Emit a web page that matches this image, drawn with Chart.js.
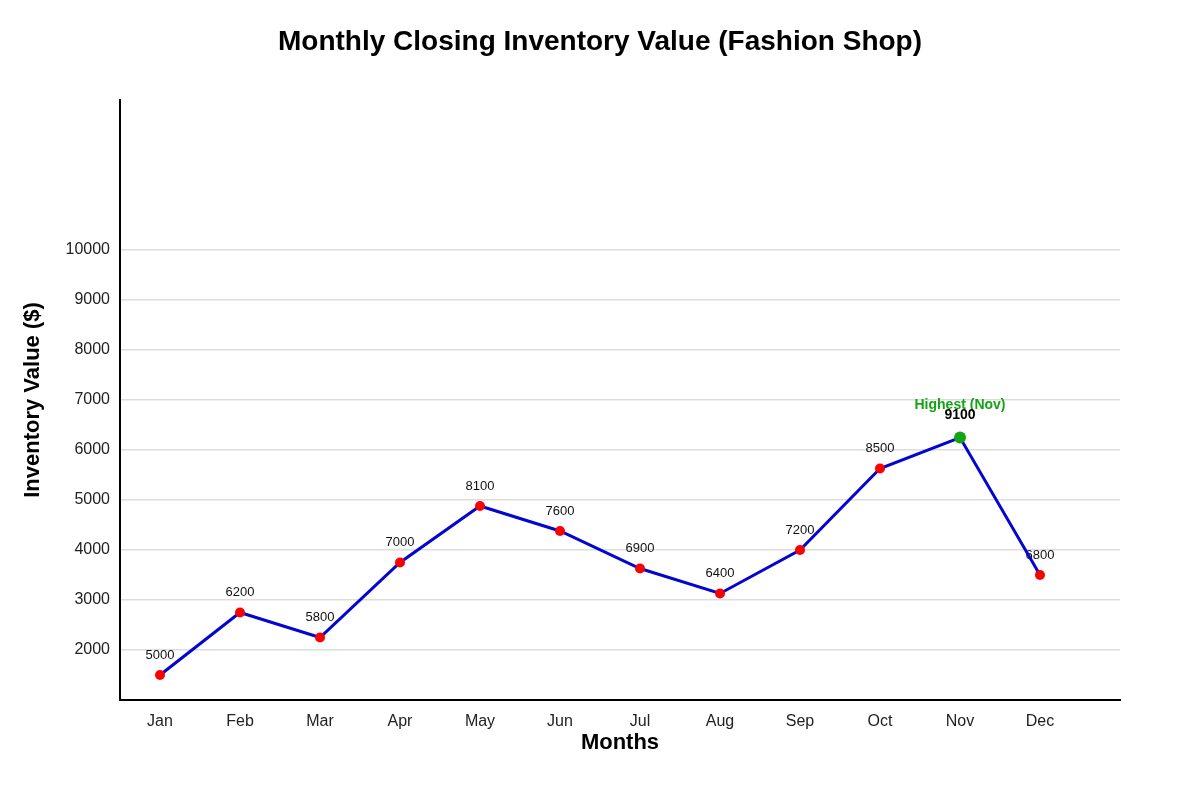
<!DOCTYPE html>
<html>
<head>
<meta charset="utf-8">
<title>Monthly Closing Inventory Value</title>
<script src="https://cdn.jsdelivr.net/npm/chart.js@4"></script>
<style>
  html, body { margin: 0; padding: 0; background: #fff; }
  #chart { display: block; }
</style>
</head>
<body>
<canvas id="chart" width="1200" height="800" style="width:1200px;height:800px"></canvas>
<script>
// months on the x axis
const months = ['Jan', 'Feb', 'Mar', 'Apr', 'May', 'Jun', 'Jul', 'Aug', 'Sep', 'Oct', 'Nov', 'Dec'];
// values written next to each point
const valueLabels = [5000, 6200, 5800, 7000, 8100, 7600, 6900, 6400, 7200, 8500, 9100, 6800];
// heights where the points sit against the y axis
const plotted = [1500, 2750, 2250, 3750, 4880, 4380, 3630, 3130, 4000, 5630, 6250, 3500];
// y tick labels
const yTicks = [2000, 3000, 4000, 5000, 6000, 7000, 8000, 9000, 10000];

const highestIdx = 10; // Nov

const FONT = "'Liberation Sans', Arial, sans-serif";

const pointColors = plotted.map((v, i) => i === highestIdx ? '#14a314' : '#ff0000');
const pointSizes = plotted.map((v, i) => i === highestIdx ? 6 : 5);

// draws the value labels under the line
const labelPlugin = {
  id: 'valueLabels',
  beforeDatasetsDraw(chart) {
    const ctx = chart.ctx;
    const meta = chart.getDatasetMeta(0);
    ctx.save();
    ctx.textAlign = 'center';
    ctx.textBaseline = 'middle';
    meta.data.forEach((pt, i) => {
      if (i === highestIdx) {
        ctx.font = 'bold 14px ' + FONT;
        ctx.fillStyle = '#14a314';
        ctx.fillText('Highest (Nov)', pt.x, pt.y - 32);
        ctx.fillStyle = '#000';
        ctx.fillText(String(valueLabels[i]), pt.x, pt.y - 22);
      } else {
        ctx.font = '13px ' + FONT;
        ctx.fillStyle = '#111';
        ctx.fillText(String(valueLabels[i]), pt.x, pt.y - 20);
      }
    });
    ctx.restore();
  }
};

// main title
const titlePlugin = {
  id: 'bigTitle',
  afterDraw(chart) {
    const ctx = chart.ctx;
    ctx.save();
    ctx.font = 'bold 28px ' + FONT;
    ctx.fillStyle = '#000';
    ctx.textAlign = 'center';
    ctx.textBaseline = 'middle';
    ctx.fillText('Monthly Closing Inventory Value (Fashion Shop)', 600, 42);
    ctx.restore();
  }
};

new Chart(document.getElementById('chart').getContext('2d'), {
  type: 'line',
  data: {
    datasets: [{
      label: 'Inventory Value',
      data: plotted.map((v, i) => ({ x: i, y: v })),
      borderColor: '#0505d0',
      borderWidth: 3,
      pointBackgroundColor: pointColors,
      pointBorderColor: pointColors,
      pointRadius: pointSizes,
      pointBorderWidth: 0,
      tension: 0,
      fill: false
    }]
  },
  options: {
    responsive: false,
    animation: false,
    devicePixelRatio: 1,
    layout: { padding: { left: 0, right: 80, top: 100, bottom: 0 } },
    plugins: {
      legend: { display: false },
      title: { display: false },
      tooltip: { enabled: false }
    },
    scales: {
      x: {
        type: 'linear',
        min: -0.5,
        max: 12,
        afterBuildTicks: (scale) => { scale.ticks = months.map((m, i) => ({ value: i })); },
        afterFit: (scale) => { scale.height = 100; },
        grid: { display: false, drawTicks: false },
        border: { display: true, color: '#000', width: 2 },
        ticks: {
          padding: 12,
          color: '#222',
          font: { family: FONT, size: 16 },
          callback: (v) => months[v] || ''
        },
        title: {
          display: true,
          text: 'Months',
          color: '#000',
          font: { family: FONT, size: 22, weight: 'bold' },
          padding: { top: 4, bottom: 44 }
        }
      },
      y: {
        min: 1000,
        max: 13000,
        afterBuildTicks: (scale) => { scale.ticks = yTicks.map(v => ({ value: v })); },
        afterFit: (scale) => { scale.width = 120; },
        grid: { color: '#dddddd', lineWidth: 1.5, drawTicks: false },
        border: { display: true, color: '#000', width: 2 },
        ticks: {
          padding: 10,
          color: '#222',
          font: { family: FONT, size: 16 },
          callback: (v) => String(v)
        },
        title: {
          display: true,
          text: 'Inventory Value ($)',
          color: '#000',
          font: { family: FONT, size: 22, weight: 'bold' },
          padding: { top: 20, bottom: 4 }
        }
      }
    }
  },
  plugins: [labelPlugin, titlePlugin]
});
</script>
</body>
</html>
